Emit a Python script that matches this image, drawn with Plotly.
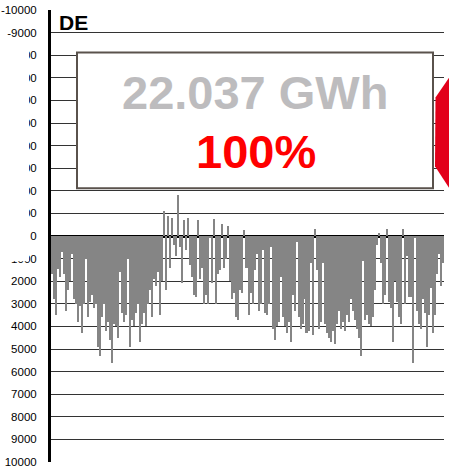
import plotly.graph_objects as go

# hourly-ish net balance (MW), positive drawn downward (reversed axis)
values = [
    1700, 2800, 3500, 1450, 1800, 700, 1700, 3300, 2400, 2000,
    800, 2800, 3000, 3800, 3100, 4300, 3000, 1000, 3600, 2900,
    2600, 3200, 3000, 4900, 5300, 3600, 3000, 4200, 3800, 4600,
    5600, 3900, 4000, 4500, 1600, 3400, 3800, 3500, 1000, 4900,
    3700, 4000, 3400, 3000, 4700, 3900, 3400, 4000,
    3000, 2400, 3600, 1900, 2200, 1600, 3500, 2000, -1100, 2400,
    -900, 1400, -800, 400, 900, -1800, 500, 2100, -700, 600,
    -800, 1300, 1800, 2600, 2700, -700, 1900, 1400, 3000, 2600,
    3000, 100, 2100, -750, 3000, 1700, 1500, -550, 1400, 1000,
    -450, 2000, 2800, 2500, 3600, 3700, 2400, 2500, -250, 1400,
    3500, 2500, 3000, 1500, 800, 3300, 3000, 600, 3400, 3500,
    3000, 500, 4100, 4600, 4000, 3800, 1800, 3600, 4000, 4300,
    3800, 4700, 2600, 3300, 250, 3600, 4100, 3900, 2800, 4300,
    4200, 1200, 4400, -300, 1500, 4100, 3800, 1200, 3900, 4300,
    4500, 4700, 4200, 4800, 3900, 3300, 4100, 3800, 4200,
    3500, 3800, 2800, 3300, 3700, 4100, 4500, 5300, 1100, 3700,
    3500, 3900, 4000, 3600, 2400, 400, -150, 1200, 3000, 2600,
    -300, 2900, 3200, 4700, 2000, 2900, 3600, 3900, -300, 3000,
    900, 2700, 2700, 5600, 100, 3300, 3900, 4100, 2800, 3400,
    4900, 3500, 2300, 4300, 3500, 1700, 800, 2200, 1200,
]
hours = list(range(len(values)))

tick_vals = list(range(-10000, 10001, 1000))
tick_text = [str(v) for v in tick_vals]

title_text = "DE"
energy_text = "22.037 GWh"
share_text = "100%"

W, H = 449, 469
PL, PR, PT, PB = 51, 444, 9.5, 462   # plot area in page pixels
ML, MT = PL, PT
MR = W - PR
MB = H - PB
PW = PR - PL
PH = PB - PT


def px(x):
    return (x - PL) / PW


def py(y):
    return (PB - y) / PH


fig = go.Figure()
fig.add_trace(go.Bar(x=hours, y=values, marker=dict(color="#858585", line=dict(width=0)),
                     hoverinfo="skip"))

shapes = [
    # white cover over left tick labels
    dict(type="rect", xref="paper", yref="paper", x0=px(0), x1=px(29), y0=py(261), y1=py(44),
         fillcolor="white", line=dict(width=0), layer="above"),
    # top strip cut
    dict(type="rect", xref="paper", yref="paper", x0=px(0), x1=px(48), y0=py(4), y1=py(-2),
         fillcolor="white", line=dict(width=0), layer="above"),
    # info box
    dict(type="rect", xref="paper", yref="paper", x0=px(77), x1=px(433), y0=py(188), y1=py(52),
         fillcolor="white", line=dict(color="#5a524c", width=2), layer="above"),
    # red pie piece at right edge
    dict(type="path", xref="paper", yref="paper",
         path="M {:.4f} {:.4f} L {:.4f} {:.4f} L {:.4f} {:.4f} L {:.4f} {:.4f} L {:.4f} {:.4f} Z".format(
             px(452), py(73), px(435.5), py(97),
             px(435), py(166), px(452), py(192), px(452), py(73)),
         fillcolor="#e2001a", line=dict(width=0), layer="above"),
]

annotations = [
    dict(text="<b>" + title_text + "</b>", xref="paper", yref="paper", x=px(57), y=py(22),
         xanchor="left", yanchor="middle", showarrow=False,
         font=dict(family="Liberation Sans, Arial", size=21, color="black")),
    dict(text="<b>" + energy_text + "</b>", xref="paper", yref="paper", x=px(255), y=py(92),
         xanchor="center", yanchor="middle", showarrow=False,
         font=dict(family="Liberation Sans, Arial", size=47, color="#bdbcbe")),
    dict(text="<b>" + share_text + "</b>", xref="paper", yref="paper", x=px(256), y=py(151),
         xanchor="center", yanchor="middle", showarrow=False,
         font=dict(family="Liberation Sans, Arial", size=47, color="#ff0000")),
]

fig.update_layout(
    width=W, height=H,
    margin=dict(l=ML, r=MR, t=MT, b=MB, pad=0, autoexpand=False),
    paper_bgcolor="white", plot_bgcolor="white",
    bargap=0, showlegend=False,
    shapes=shapes, annotations=annotations,
    xaxis=dict(visible=False, range=[-0.5, len(values) - 0.5], fixedrange=True, automargin=False),
    yaxis=dict(range=[10000, -10000], tickvals=tick_vals, ticktext=tick_text,
               showgrid=True, gridcolor="#333333", gridwidth=1.2,
               zeroline=True, zerolinecolor="black", zerolinewidth=3,
               showline=True, linecolor="black", linewidth=3,
               ticks="", ticklabelstandoff=9, automargin=False,
               tickfont=dict(family="Liberation Sans, Arial", size=11.5, color="black"),
               fixedrange=True),
)

fig.write_html("out.html", config={"displayModeBar": False},
               post_script="document.body.style.margin='0';document.body.style.overflow='hidden';")
